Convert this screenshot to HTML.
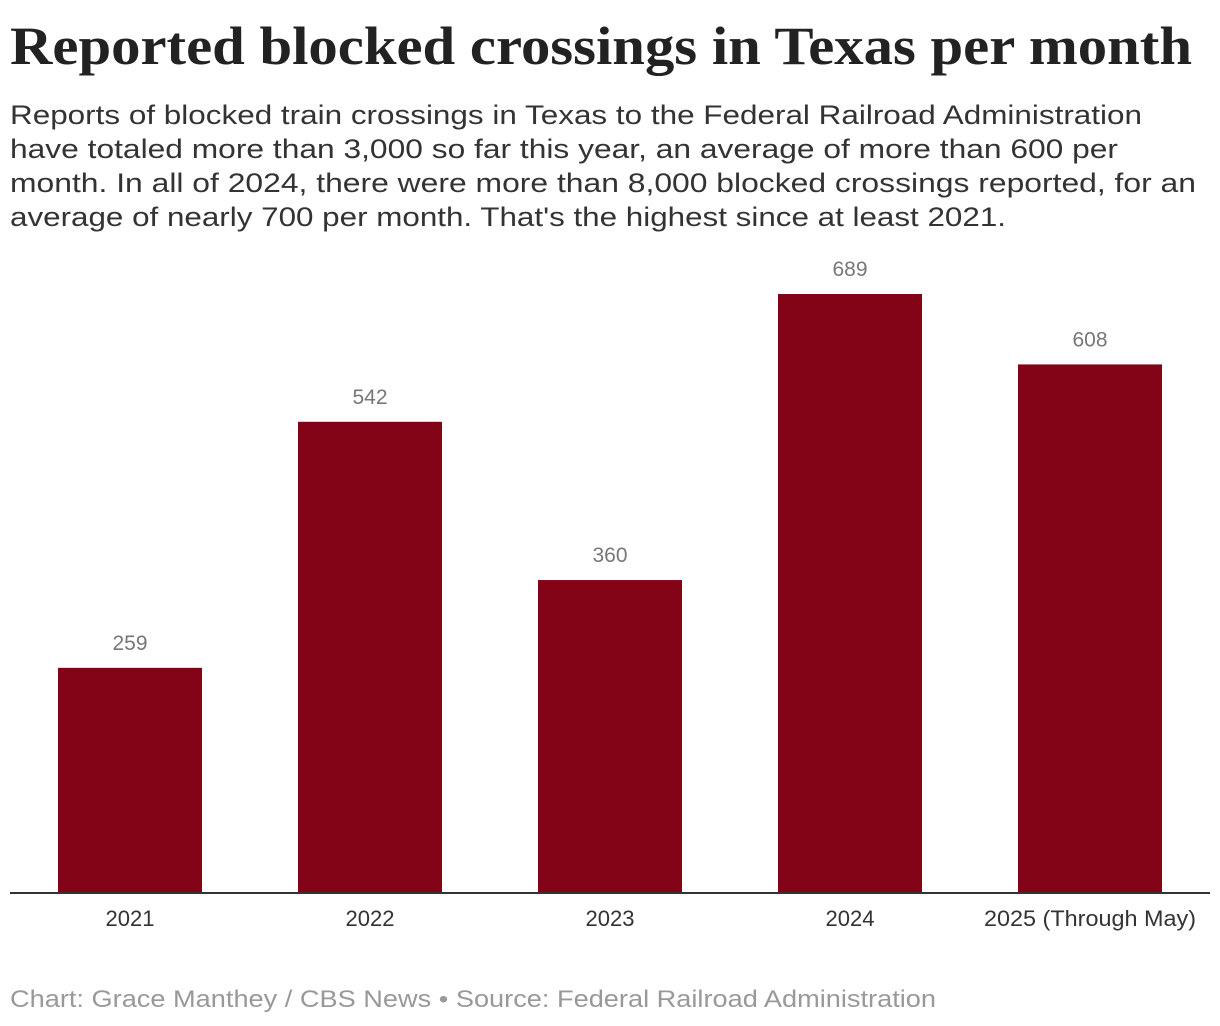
<!DOCTYPE html>
<html><head><meta charset="utf-8"><style>
body{margin:0;background:#fff;}
svg{display:block;}
</style></head><body>
<svg id="chart" width="1220" height="1026" xmlns="http://www.w3.org/2000/svg">
<text x="10" y="64" font-family="Liberation Serif, serif" font-weight="bold" font-size="54" fill="#222" textLength="1182" lengthAdjust="spacingAndGlyphs">Reported blocked crossings in Texas per month</text>
<g font-family="Liberation Sans, sans-serif" font-size="27" fill="#333">
<text x="10" y="124" textLength="1132" lengthAdjust="spacingAndGlyphs">Reports of blocked train crossings in Texas to the Federal Railroad Administration</text>
<text x="10" y="158" textLength="1108" lengthAdjust="spacingAndGlyphs">have totaled more than 3,000 so far this year, an average of more than 600 per</text>
<text x="10" y="192" textLength="1186" lengthAdjust="spacingAndGlyphs">month. In all of 2024, there were more than 8,000 blocked crossings reported, for an</text>
<text x="10" y="226" textLength="996" lengthAdjust="spacingAndGlyphs">average of nearly 700 per month. That's the highest since at least 2021.</text>
</g>
<g id="bars"></g>
<line x1="10" y1="893" x2="1210" y2="893" stroke="#333" stroke-width="2"/>
<text x="10" y="1007" font-family="Liberation Sans, sans-serif" font-size="24" fill="#999" textLength="926" lengthAdjust="spacingAndGlyphs">Chart: Grace Manthey / CBS News • Source: Federal Railroad Administration</text>
</svg>
<script>
const categories = ["2021","2022","2023","2024","2025 (Through May)"];
const values = [259, 542, 360, 689, 608];
const NS = "http://www.w3.org/2000/svg";
const g = document.getElementById("bars");
const baseY = 893, scaleK = 599/689;
function yScale(v){ return baseY - v*scaleK; }
function xCenter(i){ return 130 + i*240; }
const bw = 144;
categories.forEach((c,i)=>{
  const r = document.createElementNS(NS,"rect");
  r.setAttribute("x", xCenter(i)-bw/2);
  r.setAttribute("y", yScale(values[i]));
  r.setAttribute("width", bw);
  r.setAttribute("height", baseY - yScale(values[i]));
  r.setAttribute("fill", "#830416");
  
  
  g.appendChild(r);
  const t = document.createElementNS(NS,"text");
  t.setAttribute("x", xCenter(i));
  t.setAttribute("y", yScale(values[i]) - 18);
  t.setAttribute("text-anchor","middle");
  t.setAttribute("font-family","Liberation Sans, sans-serif");
  t.setAttribute("font-size","21");
  t.setAttribute("fill","#777");
  t.textContent = values[i];
  
  
  g.appendChild(t);
  const l = document.createElementNS(NS,"text");
  l.setAttribute("x", i===4 ? 1090 : xCenter(i));
  l.setAttribute("y", 926);
  l.setAttribute("text-anchor","middle");
  l.setAttribute("font-family","Liberation Sans, sans-serif");
  l.setAttribute("font-size","22");
  l.setAttribute("fill","#333");
  if (i===4) { l.setAttribute("textLength","212"); l.setAttribute("lengthAdjust","spacingAndGlyphs"); }
  l.textContent = c;
  
  
  g.appendChild(l);
});
</script>
</body></html>
